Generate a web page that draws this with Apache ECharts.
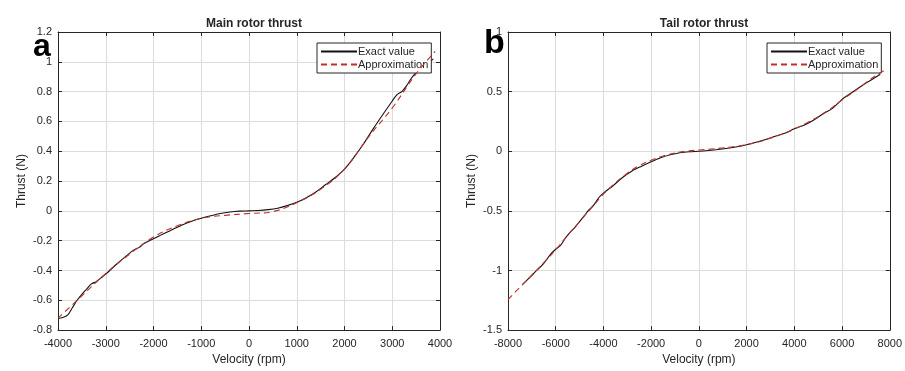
<!DOCTYPE html>
<html>
<head>
<meta charset="utf-8">
<script src="https://cdn.jsdelivr.net/npm/echarts@6/dist/echarts.min.js"></script>
<style>
  html, body { margin: 0; padding: 0; background: #fff; }
  #chart { width: 905px; height: 371px; }
</style>
</head>
<body>
<div id="chart"></div>
<script>
// main rotor (a)
const mainExactRpm = [-4000, -3900, -3800, -3700, -3600, -3500, -3400, -3300, -3200, -3100, -3000, -2800, -2600, -2400, -2300, -2200, -2000, -1800, -1600, -1400, -1200, -1000, -800, -600, -400, -200, 0, 200, 400, 600, 800, 1000, 1200, 1400, 1600, 1800, 2000, 2200, 2400, 2600, 2800, 3000, 3100, 3200, 3300, 3400, 3500, 3600, 3700, 3800, 3860]
const mainExact = [-0.72, -0.715, -0.70, -0.65, -0.60, -0.56, -0.525, -0.49, -0.475, -0.45, -0.425, -0.365, -0.31, -0.26, -0.245, -0.22, -0.187, -0.155, -0.125, -0.095, -0.07, -0.05, -0.033, -0.018, -0.008, -0.002, 0, 0.002, 0.008, 0.018, 0.035, 0.057, 0.088, 0.127, 0.175, 0.222, 0.28, 0.36, 0.45, 0.55, 0.645, 0.737, 0.78, 0.80, 0.84, 0.89, 0.93, 0.985, 1.0, 1.005, 1.02]
const mainApproxRpm = [-4000, -3500, -3000, -2500, -2000, -1500, -1000, -500, 0, 500, 1000, 1500, 2000, 2500, 3000, 3500, 3900]
const mainApprox = [-0.72, -0.57, -0.42, -0.29, -0.175, -0.10, -0.05, -0.03, -0.018, -0.005, 0.055, 0.145, 0.28, 0.495, 0.69, 0.92, 1.07]

// tail rotor (b)
const tailExactRpm = [-7400, -7300, -7000, -6800, -6500, -6200, -6000, -5800, -5600, -5400, -5200, -5000, -4800, -4600, -4400, -4200, -4000, -3600, -3200, -2800, -2400, -2000, -1600, -1200, -800, -400, 0, 400, 800, 1200, 1600, 2000, 2400, 2800, 3200, 3600, 4000, 4400, 4800, 5200, 5600, 6000, 6400, 6800, 7200, 7600]
const tailExact = [-1.12, -1.10, -1.04, -1.0, -0.94, -0.86, -0.822, -0.79, -0.73, -0.68, -0.64, -0.59, -0.54, -0.49, -0.45, -0.39, -0.351, -0.29, -0.22, -0.165, -0.125, -0.088, -0.055, -0.03, -0.013, -0.004, 0, 0.006, 0.014, 0.025, 0.038, 0.055, 0.075, 0.098, 0.125, 0.15, 0.189, 0.218, 0.26, 0.313, 0.36, 0.435, 0.49, 0.545, 0.595, 0.645]
const tailApproxRpm = [-8000, -7500, -7000, -6500, -6000, -5500, -5000, -4500, -4000, -3500, -3000, -2500, -2000, -1500, -1000, -500, 0, 500, 1000, 1500, 2000, 2500, 3000, 3500, 4000, 4500, 5000, 5500, 6000, 6500, 7000, 7500, 7750]
const tailApprox = [-1.245, -1.14, -1.04, -0.935, -0.825, -0.705, -0.59, -0.475, -0.36, -0.265, -0.185, -0.12, -0.075, -0.04, -0.015, 0.002, 0.01, 0.018, 0.028, 0.04, 0.056, 0.078, 0.11, 0.145, 0.185, 0.235, 0.29, 0.355, 0.43, 0.5, 0.575, 0.645, 0.675]

const titles = ['Main rotor thrust', 'Tail rotor thrust']
const panelLetters = ['a', 'b']
const seriesNames = ['Exact value', 'Approximation']

const font = 'Liberation Sans, Arial, sans-serif'
const axisColor = '#262626'
const approxColor = '#c0302e'

function pairs(xs, ys) {
  return xs.map((x, i) => [x, ys[i]])
}

const grids = [
  { left: 58, right: 465, top: 32, bottom: 38 },
  { left: 508, right: 15, top: 32, bottom: 38 }
]

function mainX(idx, min, max, interval) {
  return {
    type: 'value', gridIndex: idx, min: min, max: max, interval: interval,
    name: 'Velocity (rpm)', nameLocation: 'middle', nameGap: 23,
    nameTextStyle: { fontFamily: font, fontSize: 12, color: '#262626' },
    axisLine: { show: true, onZero: false, lineStyle: { color: axisColor } },
    axisTick: { show: true, inside: true, length: 4, lineStyle: { color: axisColor } },
    axisLabel: { fontFamily: font, fontSize: 11, color: '#262626', margin: 8, formatter: v => String(v) },
    splitLine: { show: true, lineStyle: { color: '#dcdcdc' } }
  }
}

function mainY(idx, min, max, interval) {
  return {
    type: 'value', gridIndex: idx, min: min, max: max, interval: interval,
    name: 'Thrust (N)', nameLocation: 'middle', nameGap: 30,
    nameTextStyle: { fontFamily: font, fontSize: 12, color: '#262626' },
    axisLine: { show: true, onZero: false, lineStyle: { color: axisColor } },
    axisTick: { show: true, inside: true, length: 4, lineStyle: { color: axisColor } },
    axisLabel: { fontFamily: font, fontSize: 11, color: '#262626', margin: 6, formatter: v => String(+v.toFixed(1)) },
    splitLine: { show: true, lineStyle: { color: '#dcdcdc' } }
  }
}

// top / right axes only for the box ticks
function boxX(idx, min, max, interval) {
  return {
    type: 'value', gridIndex: idx, min: min, max: max, interval: interval, position: 'top',
    axisLine: { show: true, onZero: false, lineStyle: { color: axisColor } },
    axisTick: { show: true, inside: true, length: 4, lineStyle: { color: axisColor } },
    axisLabel: { show: false }, splitLine: { show: false }
  }
}

function boxY(idx, min, max, interval) {
  return {
    type: 'value', gridIndex: idx, min: min, max: max, interval: interval, position: 'right',
    axisLine: { show: true, onZero: false, lineStyle: { color: axisColor } },
    axisTick: { show: true, inside: true, length: 4, lineStyle: { color: axisColor } },
    axisLabel: { show: false }, splitLine: { show: false }
  }
}

function exactSeries(idx, data) {
  return {
    name: seriesNames[0], type: 'line', xAxisIndex: idx, yAxisIndex: idx,
    data: data, symbol: 'none', smooth: 0.3, z: 3,
    lineStyle: { color: '#111', width: 1.1 }, itemStyle: { color: '#111' }
  }
}

function approxSeries(idx, data) {
  return {
    name: seriesNames[1], type: 'line', xAxisIndex: idx, yAxisIndex: idx,
    data: data, symbol: 'none', smooth: 0.4, z: 4,
    lineStyle: { color: approxColor, width: 1.1, type: [6, 4] }, itemStyle: { color: approxColor }
  }
}

function legendAt(left) {
  return {
    orient: 'vertical', left: left, top: 43,
    data: seriesNames, selectedMode: false,
    padding: [3, 3, 3, 3], itemGap: 2, itemWidth: 36, itemHeight: 12,
    itemStyle: { opacity: 0 },
    backgroundColor: '#fff', borderColor: '#262626', borderWidth: 1,
    textStyle: { fontFamily: font, fontSize: 11, color: '#262626', padding: [0, 0, 0, -4] }
  }
}

const chart = echarts.init(document.getElementById('chart'))
chart.setOption({
  animation: false,
  backgroundColor: '#fff',
  title: [
    { text: titles[0], left: 249, top: 13, textAlign: 'center', textStyle: { fontFamily: font, fontSize: 12, fontWeight: 'bold', color: '#262626' } },
    { text: titles[1], left: 699, top: 13, textAlign: 'center', textStyle: { fontFamily: font, fontSize: 12, fontWeight: 'bold', color: '#262626' } }
  ],
  legend: [legendAt(317), legendAt(767)],
  grid: grids,
  xAxis: [mainX(0, -4000, 4000, 1000), mainX(1, -8000, 8000, 2000), boxX(0, -4000, 4000, 1000), boxX(1, -8000, 8000, 2000)],
  yAxis: [mainY(0, -0.8, 1.2, 0.2), mainY(1, -1.5, 1, 0.5), boxY(0, -0.8, 1.2, 0.2), boxY(1, -1.5, 1, 0.5)],
  series: [
    exactSeries(0, pairs(mainExactRpm, mainExact)),
    approxSeries(0, pairs(mainApproxRpm, mainApprox)),
    exactSeries(1, pairs(tailExactRpm, tailExact)),
    approxSeries(1, pairs(tailApproxRpm, tailApprox))
  ],
  graphic: [
    { type: 'text', left: 33, top: 31, style: { text: panelLetters[0], font: 'bold 32px ' + font, fill: '#000' }, z: 10 },
    { type: 'text', left: 484, top: 27, style: { text: panelLetters[1], font: 'bold 34px ' + font, fill: '#000' }, z: 10 }
  ]
})
</script>
</body>
</html>
